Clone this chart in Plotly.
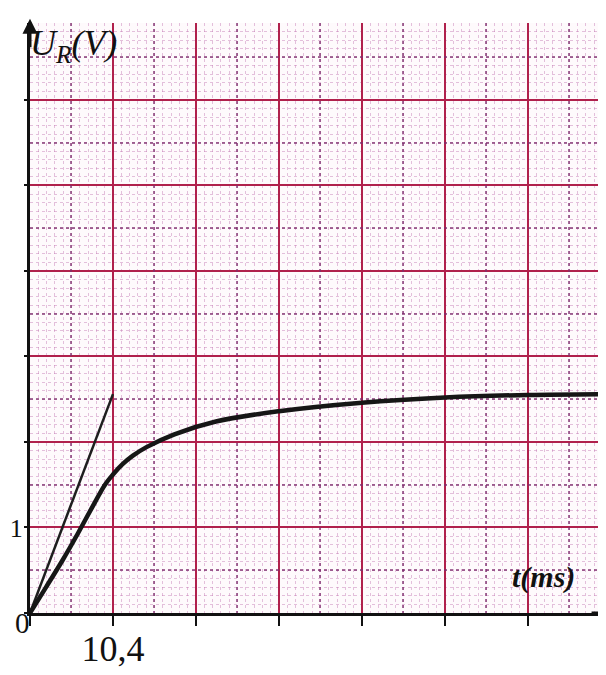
import plotly.graph_objects as go

# --- data ---
t_ms = [0, 2.0, 4.1, 6.0, 7.7, 9.4, 10.4, 11.6, 12.9, 14.6, 18.1, 23.3, 31.2, 41.6, 52.0, 62.4, 73.2]
u_r = [0, 0.30, 0.62, 0.93, 1.22, 1.50, 1.62, 1.74, 1.84, 1.94, 2.09, 2.24, 2.36, 2.46, 2.52, 2.55, 2.56]

tangent_t = [0, 10.4]
tangent_u = [0, 2.56]

x_major = [0, 10.4, 20.8, 31.2, 41.6, 52.0, 62.4, 72.8]
x_major_text = ["", "10,4", "", "", "", "", "", ""]
y_major = [0, 1, 2, 3, 4, 5, 6]
y_major_text = ["", "1", "", "", "", "", ""]

X_RANGE = [0, 73.2]
Y_RANGE = [0, 6.9]

x_medium = [v + 5.2 for v in x_major if v + 5.2 < X_RANGE[1]]
y_medium = [v + 0.5 for v in y_major if v + 0.5 < Y_RANGE[1]]

SERIF = "Liberation Serif"
MAJOR_C = "#b0204c"
MED_C = "rgba(125,45,110,0.7)"
MINOR_C = "rgba(190,110,175,0.42)"

fig = go.Figure()
fig.add_trace(go.Scatter(x=tangent_t, y=tangent_u, mode="lines",
                         line=dict(color="#1e1e1e", width=2.5), hoverinfo="skip",
                         showlegend=False))
fig.add_trace(go.Scatter(x=t_ms, y=u_r, mode="lines",
                         line=dict(color="#161616", width=4.5, shape="spline", smoothing=1.0),
                         showlegend=False))

fig.update_layout(
    width=606, height=675,
    margin=dict(l=22, r=0, t=15, b=70),
    paper_bgcolor="white",
    plot_bgcolor="#fefafc",
    xaxis=dict(range=X_RANGE, tickmode="array", tickvals=x_major, ticktext=x_major_text,
               automargin=False,
               showgrid=True, gridcolor=MAJOR_C, gridwidth=2, zeroline=False,
               showline=True, linecolor="#111", linewidth=3,
               ticks="outside", ticklen=10, tickwidth=2, tickcolor="#111",
               ticklabelstandoff=-8,
               tickfont=dict(family=SERIF, size=36, color="#111"),
               minor=dict(dtick=1.04, tick0=0, showgrid=True, gridcolor=MINOR_C,
                          gridwidth=1, griddash="dot")),
    yaxis=dict(range=Y_RANGE, tickmode="array", tickvals=y_major, ticktext=y_major_text,
               automargin=False,
               showgrid=True, gridcolor=MAJOR_C, gridwidth=2, zeroline=False,
               showline=True, linecolor="#111", linewidth=3,
               ticks="outside", ticklen=3, tickwidth=2, tickcolor="#111",
               ticklabelstandoff=-4,
               tickfont=dict(family=SERIF, size=26, color="#111"),
               minor=dict(dtick=0.1, tick0=0, showgrid=True, gridcolor=MINOR_C,
                          gridwidth=1, griddash="dot")),
    xaxis2=dict(overlaying="x", range=X_RANGE, tickmode="array", tickvals=x_medium,
                automargin=False,
                showticklabels=False, ticks="", showgrid=True, gridcolor=MED_C,
                gridwidth=1.5, griddash="dot", zeroline=False, showline=False),
    yaxis2=dict(overlaying="y", range=Y_RANGE, tickmode="array", tickvals=y_medium,
                automargin=False,
                showticklabels=False, ticks="", showgrid=True, gridcolor=MED_C,
                gridwidth=1.5, griddash="dot", zeroline=False, showline=False),
)

# invisible trace to activate overlay axes
fig.add_trace(go.Scatter(x=[X_RANGE[0]], y=[Y_RANGE[0]], xaxis="x2", yaxis="y2",
                         mode="markers", marker=dict(opacity=0), hoverinfo="skip",
                         showlegend=False))

# axis arrows
fig.add_annotation(x=0, y=Y_RANGE[1] + 0.05, ax=0, ay=Y_RANGE[1] - 0.3,
                   xref="x", yref="y", axref="x", ayref="y", text="",
                   showarrow=True, arrowhead=2, arrowsize=1, arrowwidth=3, arrowcolor="#111")
fig.add_annotation(x=X_RANGE[1] - 0.05, y=0, ax=X_RANGE[1] - 3, ay=0,
                   xref="x", yref="y", axref="x", ayref="y", text="",
                   showarrow=True, arrowhead=2, arrowsize=1, arrowwidth=3, arrowcolor="#111")

# texts
fig.add_annotation(x=0, y=0, xref="x", yref="y", text="0", showarrow=False,
                   xanchor="right", yanchor="top", xshift=2, yshift=8,
                   font=dict(family=SERIF, size=29, color="#111"))
fig.add_annotation(x=0, y=Y_RANGE[1], xref="x", yref="y",
                   text="<i>U<sub>R</sub>(V)</i>", showarrow=False,
                   xanchor="left", yanchor="top", xshift=-2, yshift=2,
                   font=dict(family=SERIF, size=36, color="#111"))
fig.add_annotation(x=68.6, y=0.42, xref="x", yref="y",
                   text="<b><i>t(ms)</i></b>", showarrow=False,
                   xanchor="right", yanchor="middle",
                   font=dict(family=SERIF, size=30, color="#111"))

fig.write_html("out.html")
